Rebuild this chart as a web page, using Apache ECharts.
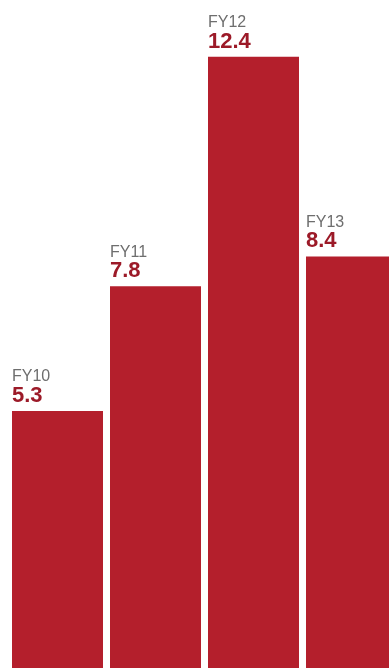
<!DOCTYPE html>
<html>
<head>
<meta charset="utf-8">
<script src="https://cdn.jsdelivr.net/npm/echarts@6/dist/echarts.min.js"></script>
<style>
  html, body { margin: 0; padding: 0; background: #ffffff; }
  #chart { width: 389px; height: 668px; }
</style>
</head>
<body>
<div id="chart"></div>
<script>
// Fiscal years and their values
const years = ['FY10', 'FY11', 'FY12', 'FY13'];
const values = [5.3, 7.8, 12.4, 8.4];

const chart = echarts.init(document.getElementById('chart'), null, { renderer: 'canvas' });

chart.setOption({
  animation: false,
  backgroundColor: '#ffffff',
  // plot area runs past the right and bottom edges so the last bar and the baseline are cropped
  grid: { left: 8.5, top: 0, width: 392, height: 675.5, outerBoundsMode: 'none', containLabel: false },
  xAxis: {
    type: 'category',
    data: years,
    show: false,
    boundaryGap: true
  },
  yAxis: {
    type: 'value',
    min: 0,
    max: 13.54,
    show: false
  },
  series: [{
    type: 'bar',
    data: values,
    barWidth: 91,
    itemStyle: { color: '#b41f2c' },
    label: {
      show: true,
      position: [0, -5],
      align: 'left',
      verticalAlign: 'bottom',
      formatter: function (p) {
        return '{a|' + years[p.dataIndex] + '}\n{b|' + p.value + '}';
      },
      rich: {
        a: {
          fontFamily: 'Liberation Sans',
          fontSize: 16,
          color: '#6e6e6e',
          lineHeight: 18
        },
        b: {
          fontFamily: 'Liberation Sans',
          fontSize: 22,
          fontWeight: 'bold',
          color: '#9c1a28',
          lineHeight: 20
        }
      }
    }
  }]
});
</script>
</body>
</html>
